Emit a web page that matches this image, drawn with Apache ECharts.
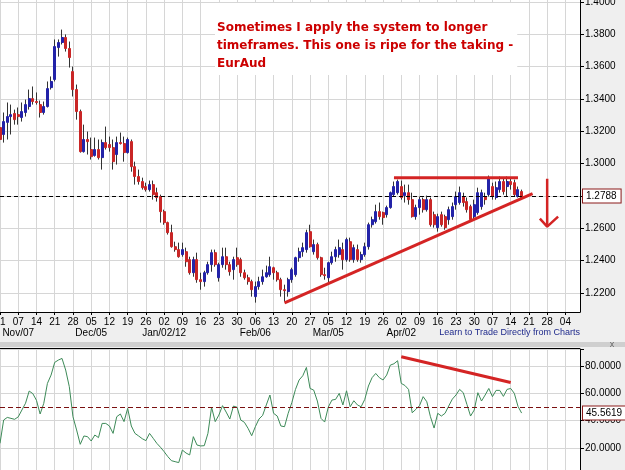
<!DOCTYPE html>
<html>
<head>
<meta charset="utf-8">
<title>EurAud</title>
<script src="https://cdn.jsdelivr.net/npm/echarts@6/dist/echarts.min.js"></script>
<style>
  html, body { margin: 0; padding: 0; background: #efefef; }
  #chart { width: 625px; height: 470px; }
</style>
</head>
<body>
<div id="chart"></div>
<script>
var firstDay = '2011-10-31';
var dayCount = 160;

var monthTicks = ['2011-11-07', '2011-12-05', '2012-01-02', '2012-02-06', '2012-03-05', '2012-04-02'];
var monthLabels = ['Nov/07', 'Dec/05', 'Jan/02/12', 'Feb/06', 'Mar/05', 'Apr/02'];

var priceTicks = [1.22, 1.24, 1.26, 1.28, 1.30, 1.32, 1.34, 1.36, 1.38, 1.40];
var lastPrice = 1.2788;
var lastOsc = 45.5619;

// [open, close, low, high]
var ohlc = [
    [1.3223,1.3149,1.3118,1.3241],[1.3180,1.3260,1.3130,1.3316],[1.3255,1.3291,1.3149,1.3378],[1.3291,1.3303,1.3180,1.3365],[1.3310,1.3272,1.3241,1.3334],
    [1.3303,1.3291,1.3241,1.3347],[1.3285,1.3322,1.3260,1.3378],[1.3316,1.3365,1.3291,1.3396],[1.3353,1.3402,1.3334,1.3458],[1.3402,1.3384,1.3365,1.3477],
    [1.3384,1.3378,1.3365,1.3440],[1.3365,1.3316,1.3285,1.3390],[1.3316,1.3353,1.3303,1.3384],[1.3353,1.3464,1.3347,1.3508],[1.3470,1.3508,1.3458,1.3539],
    [1.3520,1.3724,1.3508,1.3768],[1.3718,1.3749,1.3662,1.3768],[1.3749,1.3780,1.3737,1.3829],[1.3780,1.3712,1.3693,1.3799],[1.3712,1.3656,1.3594,1.3755],
    [1.3569,1.3458,1.3415,1.3600],[1.3458,1.3322,1.3272,1.3489],[1.3322,1.3074,1.3068,1.3334],[1.3074,1.3149,1.3068,1.3241],[1.3149,1.3136,1.3056,1.3198],
    [1.3087,1.3043,1.3025,1.3161],[1.3050,1.3087,1.3043,1.3161],[1.3087,1.3037,1.3025,1.3149],[1.3037,1.3130,1.2963,1.3149],[1.3130,1.3099,1.3087,1.3229],
    [1.3118,1.3099,1.3074,1.3167],[1.3099,1.3012,1.2963,1.3149],[1.3056,1.3130,1.2994,1.3167],[1.3130,1.3124,1.3118,1.3192],[1.3124,1.3068,1.3012,1.3167],
    [1.3068,1.3149,1.3062,1.3161],[1.3136,1.2981,1.2950,1.3149],[1.2981,1.2920,1.2870,1.3012],[1.2920,1.2889,1.2870,1.2963],[1.2889,1.2851,1.2839,1.2913],
    [1.2858,1.2839,1.2827,1.2882],[1.2839,1.2870,1.2827,1.2895],[1.2870,1.2808,1.2777,1.2895],[1.2820,1.2790,1.2765,1.2851],[1.2796,1.2703,1.2635,1.2808],
    [1.2703,1.2635,1.2622,1.2715],[1.2635,1.2573,1.2561,1.2641],[1.2573,1.2486,1.2480,1.2622],[1.2486,1.2468,1.2455,1.2517],[1.2468,1.2424,1.2418,1.2511],
    [1.2437,1.2468,1.2424,1.2511],[1.2455,1.2393,1.2362,1.2480],[1.2406,1.2325,1.2313,1.2424],[1.2325,1.2406,1.2300,1.2424],[1.2406,1.2282,1.2263,1.2449],
    [1.2282,1.2270,1.2220,1.2325],[1.2270,1.2325,1.2239,1.2337],[1.2325,1.2375,1.2313,1.2393],[1.2375,1.2449,1.2331,1.2468],[1.2449,1.2375,1.2362,1.2468],
    [1.2294,1.2375,1.2270,1.2387],[1.2375,1.2424,1.2356,1.2480],[1.2424,1.2375,1.2344,1.2480],[1.2375,1.2331,1.2307,1.2393],[1.2344,1.2406,1.2282,1.2424],
    [1.2418,1.2375,1.2362,1.2480],[1.2406,1.2325,1.2300,1.2418],[1.2325,1.2294,1.2282,1.2344],[1.2294,1.2270,1.2251,1.2313],[1.2270,1.2220,1.2177,1.2282],
    [1.2177,1.2239,1.2140,1.2270],[1.2239,1.2270,1.2220,1.2300],[1.2270,1.2300,1.2251,1.2344],[1.2300,1.2325,1.2294,1.2369],[1.2313,1.2362,1.2300,1.2424],
    [1.2356,1.2325,1.2282,1.2362],[1.2325,1.2282,1.2270,1.2337],[1.2282,1.2220,1.2177,1.2294],[1.2220,1.2214,1.2146,1.2251],[1.2208,1.2282,1.2177,1.2294],
    [1.2282,1.2344,1.2263,1.2356],[1.2313,1.2418,1.2300,1.2424],[1.2418,1.2455,1.2393,1.2480],[1.2455,1.2480,1.2424,1.2511],[1.2468,1.2573,1.2449,1.2591],
    [1.2579,1.2486,1.2480,1.2622],[1.2455,1.2499,1.2437,1.2530],[1.2499,1.2418,1.2406,1.2511],[1.2418,1.2313,1.2300,1.2424],[1.2313,1.2307,1.2282,1.2356],
    [1.2294,1.2387,1.2251,1.2393],[1.2387,1.2424,1.2375,1.2455],[1.2424,1.2468,1.2393,1.2486],[1.2437,1.2480,1.2418,1.2530],[1.2468,1.2406,1.2344,1.2511],
    [1.2406,1.2530,1.2393,1.2542],[1.2517,1.2406,1.2393,1.2542],[1.2406,1.2480,1.2387,1.2499],[1.2468,1.2406,1.2393,1.2499],[1.2406,1.2437,1.2387,1.2455],
    [1.2437,1.2486,1.2424,1.2511],[1.2486,1.2622,1.2468,1.2635],[1.2622,1.2653,1.2604,1.2672],[1.2641,1.2703,1.2629,1.2746],[1.2703,1.2672,1.2653,1.2759],
    [1.2697,1.2666,1.2622,1.2703],[1.2684,1.2728,1.2666,1.2740],[1.2728,1.2820,1.2721,1.2827],[1.2808,1.2858,1.2796,1.2889],[1.2820,1.2889,1.2808,1.2901],
    [1.2858,1.2790,1.2777,1.2895],[1.2802,1.2820,1.2759,1.2870],[1.2820,1.2777,1.2746,1.2870],[1.2777,1.2672,1.2666,1.2820],[1.2672,1.2728,1.2653,1.2746],
    [1.2728,1.2777,1.2684,1.2796],[1.2777,1.2715,1.2697,1.2790],[1.2715,1.2777,1.2703,1.2802],[1.2777,1.2622,1.2610,1.2790],[1.2684,1.2622,1.2604,1.2703],
    [1.2604,1.2672,1.2579,1.2690],[1.2684,1.2622,1.2610,1.2703],[1.2672,1.2604,1.2591,1.2684],[1.2653,1.2715,1.2622,1.2734],[1.2672,1.2734,1.2653,1.2759],
    [1.2746,1.2796,1.2715,1.2827],[1.2759,1.2820,1.2746,1.2858],[1.2796,1.2759,1.2734,1.2820],[1.2765,1.2715,1.2697,1.2790],[1.2734,1.2653,1.2641,1.2746],
    [1.2672,1.2746,1.2653,1.2777],[1.2697,1.2820,1.2684,1.2851],[1.2734,1.2820,1.2715,1.2839],[1.2796,1.2777,1.2746,1.2820],[1.2808,1.2913,1.2796,1.2926],
    [1.2858,1.2796,1.2777,1.2882],[1.2790,1.2851,1.2777,1.2889],[1.2839,1.2889,1.2820,1.2920],[1.2889,1.2827,1.2808,1.2913],[1.2858,1.2889,1.2796,1.2920],
    [1.2889,1.2870,1.2839,1.2913],[1.2882,1.2808,1.2796,1.2901],[1.2796,1.2839,1.2790,1.2858],[1.2827,1.2788,1.2777,1.2839]
];

var oscillator = [
    23.4, 40.5, 42.4, 41.7, 41.0, 42.8, 47.8, 52.8, 61.7, 59.8,
    54.9, 44.9, 52.7, 67.3, 73.4, 82.7, 84.4, 85.6, 77.1, 64.9,
    42.9, 33.2, 22.7, 28.8, 28.3, 25.1, 29.5, 27.6, 38.0, 38.0,
    36.1, 30.7, 42.9, 44.9, 39.3, 49.0, 36.1, 30.7, 28.8, 26.8,
    25.4, 30.7, 27.1, 23.4, 20.5, 17.3, 13.7, 10.7, 10.0, 9.3,
    18.5, 16.3, 14.9, 28.3, 22.2, 21.5, 21.7, 30.7, 49.8, 39.3,
    44.1, 51.0, 46.3, 41.2, 50.7, 49.8, 40.5, 38.8, 34.4, 29.0,
    35.6, 41.2, 43.9, 51.5, 58.8, 45.4, 43.4, 36.1, 35.6, 45.4,
    53.2, 62.9, 69.8, 72.9, 79.0, 63.6, 62.4, 54.4, 41.7, 39.0,
    50.0, 55.1, 55.6, 60.0, 51.5, 61.9, 50.2, 54.6, 51.5, 50.2,
    55.6, 65.4, 71.5, 74.6, 71.5, 69.8, 73.4, 80.7, 81.7, 83.9,
    67.3, 65.8, 62.9, 45.8, 48.3, 51.0, 57.6, 53.9, 42.9, 34.6,
    45.4, 43.4, 45.4, 50.7, 55.8, 58.8, 62.9, 60.5, 51.9, 43.4,
    47.8, 60.5, 54.4, 58.8, 63.6, 57.6, 62.2, 62.2, 57.8, 62.9,
    63.6, 60.0, 50.5, 45.5619
];

// hand drawn annotations, in chart coordinates
var supportLine = [['2012-02-16', 1.2138], ['2012-05-22', 1.2814]];
var resistanceLine = [['2012-03-29', 1.2913], ['2012-05-16', 1.2913]];
var arrowShaft = [['2012-05-28', 1.2906], ['2012-05-28', 1.2612]];
var arrowHead = [['2012-05-24', 1.2660], ['2012-05-28', 1.2610], ['2012-05-31', 1.2672]];
var oscTrend = [['2012-04-02', 86.8], ['2012-05-14', 68.0]];

var days = [];
var t = Date.parse(firstDay + 'T00:00:00Z');
while (days.length < dayCount) {
    var wd = new Date(t).getUTCDay();
    if (wd > 0 && wd < 6) {
        days.push(new Date(t).toISOString().slice(0, 10));
    }
    t += 86400000;
}

var bodies = ohlc.map(function (r) {
    return [r[0], r[1], Math.min(r[0], r[1]), Math.max(r[0], r[1])];
});

function isMonday(index, value) {
    return new Date(value + 'T00:00:00Z').getUTCDay() === 1;
}

function isMonthTick(index, value) {
    return monthTicks.indexOf(value) >= 0;
}

var axisFont = "'Liberation Sans', Arial, sans-serif";
var gridColor = '#d6d6d6';
var penRed = '#d42424';

function tag(text) {
    return {
        show: true,
        position: 'end',
        distance: 3,
        formatter: text,
        color: '#000',
        fontSize: 10,
        fontFamily: axisFont,
        backgroundColor: '#fff',
        borderColor: '#8b1a1a',
        borderWidth: 1,
        padding: [2, 4, 1, 3]
    };
}

var chart = echarts.init(document.getElementById('chart'));

var option = {
    backgroundColor: '#efefef',
    animation: false,
    title: {
        text: 'Sometimes I apply the system to longer\ntimeframes. This one is ripe for the taking -\nEurAud',
        left: 215,
        top: 3,
        padding: [16, 4, 2, 2],
        backgroundColor: '#fff',
        textStyle: {
            color: '#cc0000',
            fontFamily: "'DejaVu Sans', Verdana, sans-serif",
            fontWeight: 'bold',
            fontSize: 12,
            lineHeight: 18
        }
    },
    grid: [
        { left: 0, top: 0, width: 580, height: 312, outerBoundsMode: 'none', show: true, backgroundColor: '#fff', borderWidth: 0 },
        { left: 0, top: 349, width: 580, height: 126.3, outerBoundsMode: 'none', show: true, backgroundColor: '#fff', borderWidth: 0 }
    ],
    xAxis: [{
        type: 'category',
        gridIndex: 0,
        data: days,
        boundaryGap: false,
        axisLine: { lineStyle: { color: '#000' } },
        axisTick: { interval: isMonday, length: 3, lineStyle: { color: '#000' } },
        axisLabel: {
            interval: isMonday,
            showMinLabel: true,
            formatter: function (value) { return value.slice(8); },
            color: '#000',
            fontSize: 10,
            fontFamily: axisFont,
            margin: 5
        },
        splitLine: { show: true, interval: isMonday, lineStyle: { color: gridColor } }
    }, {
        type: 'category',
        gridIndex: 1,
        data: days,
        boundaryGap: false,
        axisLine: { show: false },
        axisTick: { show: false },
        axisLabel: { show: false },
        splitLine: { show: true, interval: isMonday, lineStyle: { color: gridColor } }
    }, {
        // month row under the day numbers
        type: 'category',
        gridIndex: 0,
        data: days,
        boundaryGap: false,
        position: 'bottom',
        offset: 11,
        axisLine: { show: false },
        axisTick: { show: false },
        splitLine: { show: false },
        axisLabel: {
            interval: isMonthTick,
            formatter: function (value) { return monthLabels[monthTicks.indexOf(value)] || ''; },
            color: '#000',
            fontSize: 10,
            fontFamily: axisFont,
            margin: 5
        }
    }],
    yAxis: [{
        type: 'value',
        gridIndex: 0,
        position: 'right',
        min: 1.2082,
        max: 1.4012,
        axisLine: { show: true, lineStyle: { color: '#000' } },
        axisTick: { show: true, length: 4, customValues: priceTicks, lineStyle: { color: '#000' } },
        axisLabel: {
            customValues: priceTicks.filter(function (v) { return Math.abs(v - lastPrice) > 0.004; }),
            formatter: function (v) { return v.toFixed(4); },
            color: '#000',
            fontSize: 10,
            fontFamily: axisFont,
            margin: 5
        },
        splitLine: { show: true, customValues: priceTicks, lineStyle: { color: gridColor } }
    }, {
        type: 'value',
        gridIndex: 1,
        position: 'right',
        min: 0,
        max: 92.5,
        interval: 20,
        axisLine: { show: true, lineStyle: { color: '#000' } },
        axisTick: { show: true, length: 4, lineStyle: { color: '#000' } },
        axisLabel: {
            formatter: function (v) { return v % 20 === 0 ? v.toFixed(4) : ''; },
            color: '#000',
            fontSize: 10,
            fontFamily: axisFont,
            margin: 5
        },
        splitLine: { show: true, lineStyle: { color: gridColor } }
    }],
    series: [{
        name: 'wicks',
        type: 'candlestick',
        xAxisIndex: 0,
        yAxisIndex: 0,
        barWidth: 0.5,
        silent: true,
        itemStyle: { color: '#333', color0: '#333', borderColor: '#333', borderColor0: '#333', borderWidth: 1 },
        data: ohlc
    }, {
        name: 'EurAud',
        type: 'candlestick',
        xAxisIndex: 0,
        yAxisIndex: 0,
        barWidth: 2.5,
        silent: true,
        itemStyle: { color: '#2323a8', color0: '#c92626', borderColor: '#2323a8', borderColor0: '#c92626', borderWidth: 1 },
        data: bodies,
        markLine: {
            silent: true,
            symbol: 'none',
            animation: false,
            lineStyle: { type: [4, 3], color: '#000', width: 1 },
            data: [{ yAxis: lastPrice, label: tag(lastPrice.toFixed(4)) }]
        }
    }, {
        type: 'line', xAxisIndex: 0, yAxisIndex: 0, silent: true, symbol: 'none', z: 5,
        lineStyle: { color: penRed, width: 3 },
        data: supportLine
    }, {
        type: 'line', xAxisIndex: 0, yAxisIndex: 0, silent: true, symbol: 'none', z: 5,
        lineStyle: { color: penRed, width: 3 },
        data: resistanceLine
    }, {
        type: 'line', xAxisIndex: 0, yAxisIndex: 0, silent: true, symbol: 'none', z: 5,
        lineStyle: { color: penRed, width: 2.5 },
        data: arrowShaft
    }, {
        type: 'line', xAxisIndex: 0, yAxisIndex: 0, silent: true, symbol: 'none', z: 5,
        lineStyle: { color: penRed, width: 2.5 },
        data: arrowHead
    }, {
        name: 'Oscillator',
        type: 'line',
        xAxisIndex: 1,
        yAxisIndex: 1,
        silent: true,
        symbol: 'none',
        lineStyle: { color: '#3d8a58', width: 1 },
        data: oscillator,
        markLine: {
            silent: true,
            symbol: 'none',
            animation: false,
            lineStyle: { type: [5, 3], color: '#7a1010', width: 1 },
            data: [
                { yAxis: 50, label: { show: false } },
                { yAxis: lastOsc, lineStyle: { color: 'rgba(0,0,0,0)' }, label: tag(lastOsc.toFixed(4)) }
            ]
        }
    }, {
        type: 'line', xAxisIndex: 1, yAxisIndex: 1, silent: true, symbol: 'none', z: 5,
        lineStyle: { color: penRed, width: 3 },
        data: oscTrend
    }],
    graphic: [
        { type: 'rect', shape: { x: 0, y: 342, width: 625, height: 5 }, style: { fill: '#cfcfcf' }, silent: true },
        { type: 'line', shape: { x1: 0, y1: 348.5, x2: 580, y2: 348.5 }, style: { stroke: '#000', lineWidth: 1 }, silent: true },
        { type: 'text', x: 612, y: 344.5, style: { text: 'x', fill: '#666', font: '9px sans-serif', align: 'center', verticalAlign: 'middle' }, silent: true },
        {
            type: 'text', x: 580, y: 333, silent: true,
            style: {
                text: 'Learn to Trade Directly from Charts',
                fill: '#1f2a8c',
                font: "9px 'Liberation Sans', Arial, sans-serif",
                align: 'right',
                verticalAlign: 'middle'
            }
        }
    ]
};

chart.setOption(option);
</script>
</body>
</html>
